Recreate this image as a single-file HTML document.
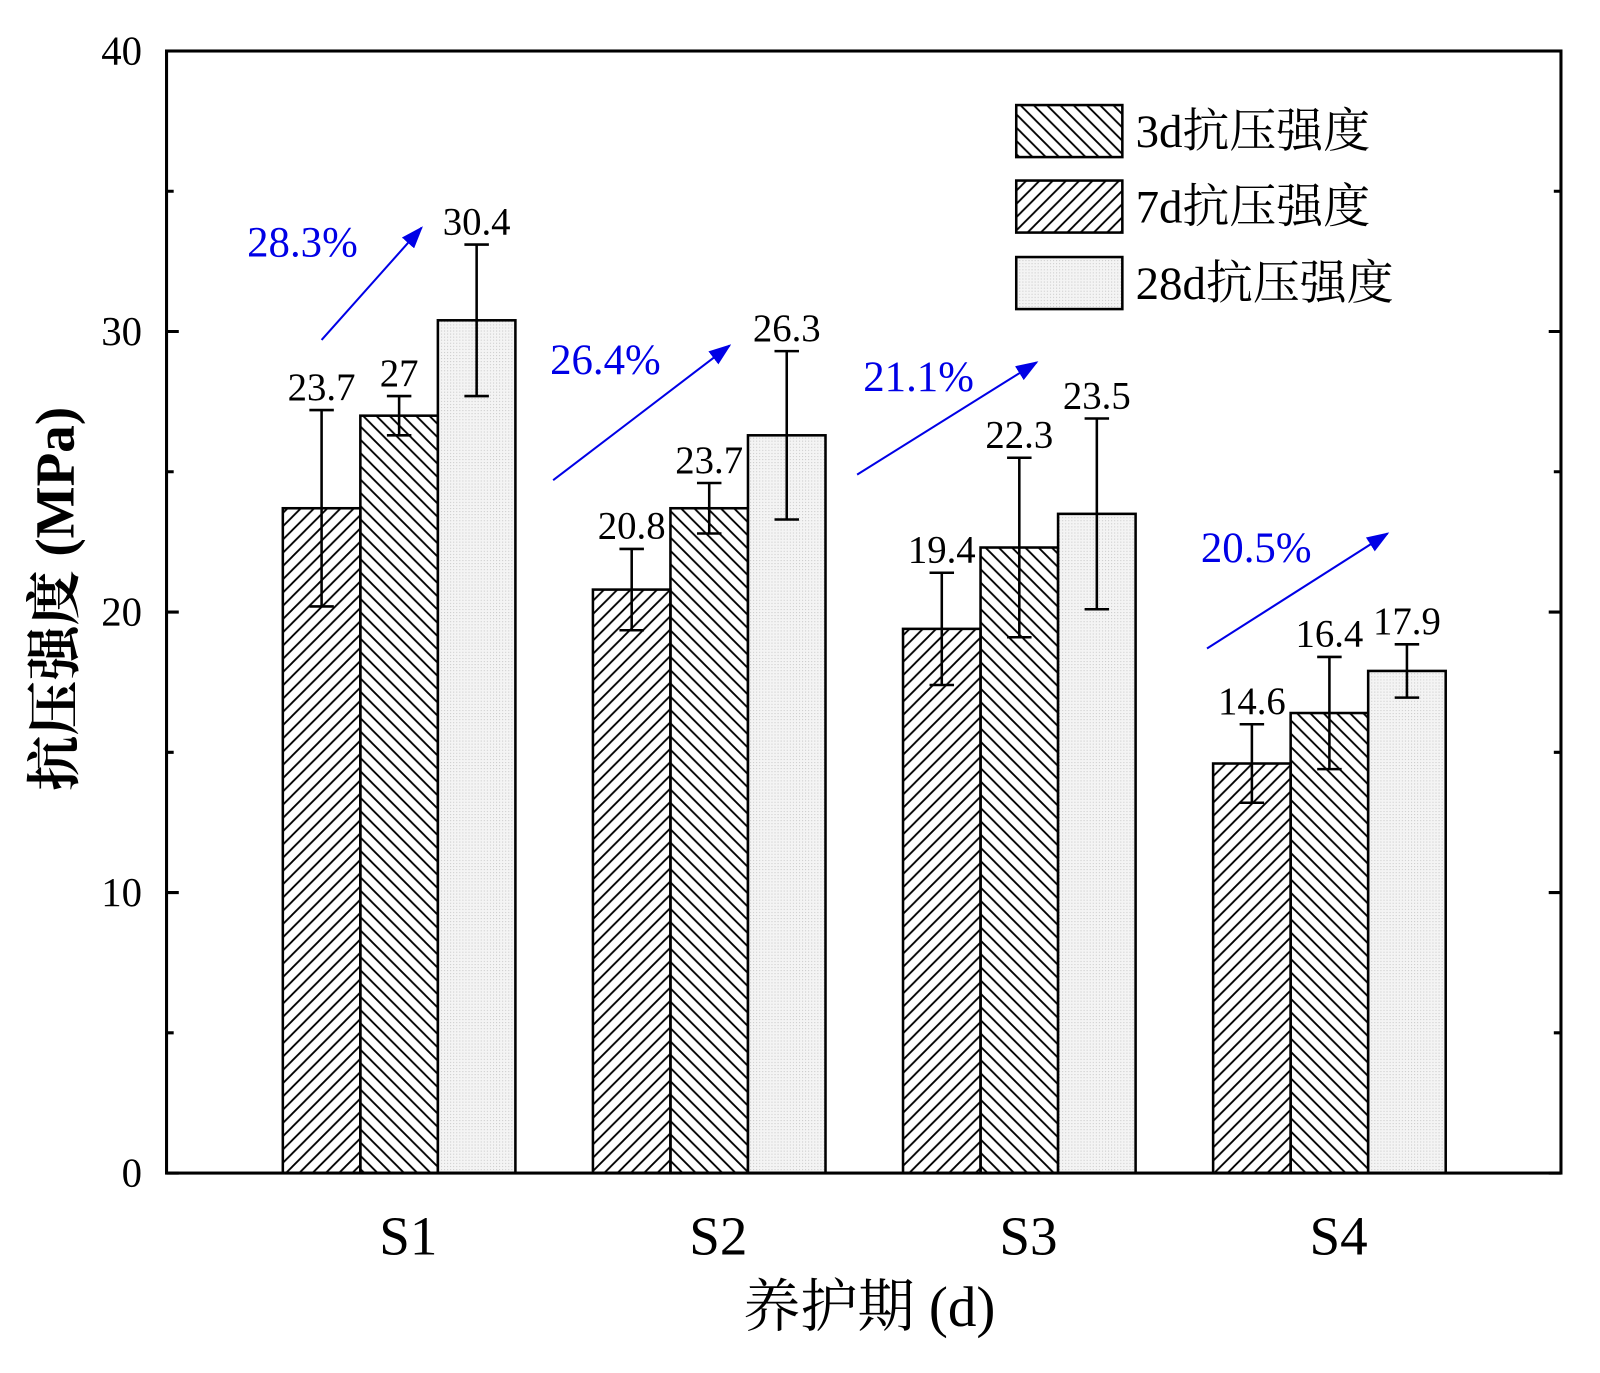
<!DOCTYPE html>
<html><head><meta charset="utf-8"><style>body{margin:0;background:#fff}svg{display:block}</style></head>
<body>
<svg id="chart" width="1600" height="1373" viewBox="0 0 1568 1346" xmlns="http://www.w3.org/2000/svg" font-family="'Liberation Serif','Noto Serif CJK SC',serif">
<defs>
<pattern id="hf" patternUnits="userSpaceOnUse" width="13" height="13"><path d="M-3,3 L3,-3 M0,13 L13,0 M10,16 L16,10" stroke="#000" stroke-width="1.8"/></pattern>
<pattern id="hb" patternUnits="userSpaceOnUse" width="13" height="13"><path d="M-3,10 L3,16 M0,0 L13,13 M10,-3 L16,3" stroke="#000" stroke-width="1.8"/></pattern>
<pattern id="dots" patternUnits="userSpaceOnUse" width="3" height="3"><rect width="3" height="3" fill="#f4f4f4"/><rect width="1" height="1" fill="#c8c8c8"/></pattern>
<marker id="ah" markerWidth="22" markerHeight="16" refX="20" refY="8" orient="auto" markerUnits="userSpaceOnUse" viewBox="0 0 22 16"><path d="M0,0 L22,8 L0,16 z" fill="#0000e6"/></marker>
</defs>
<g id="plot"></g>
</svg>
<script>
const categories = ['S1','S2','S3','S4'];
const series = ['3d抗压强度','7d抗压强度','28d抗压强度'];
const v3 = [23.7, 20.8, 19.4, 14.6];
const v7 = [27, 23.7, 22.3, 16.4];
const v28 = [30.4, 26.3, 23.5, 17.9];
const e3 = [3.5, 1.45, 2.0, 1.4];
const e7 = [0.7, 0.9, 3.2, 2.0];
const e28 = [2.7, 3.0, 3.4, 0.95];
const labels3 = ['23.7','20.8','19.4','14.6'];
const labels7 = ['27','23.7','22.3','16.4'];
const labels28 = ['30.4','26.3','23.5','17.9'];
const pcts = ['28.3%','26.4%','21.1%','20.5%'];
const yTicks = [0,10,20,30,40];
const arrowFromVal = [29.7, 24.7, 24.9, 18.7];
const arrowToVal = [33.7, 29.5, 28.9, 22.8];

const NS='http://www.w3.org/2000/svg';
const g=document.getElementById('plot');
const X0=163,X1=1530,Y0=1150,Y1=50;
const y=v=>Y0-(v/40)*(Y0-Y1);
const groupLeft=i=>277+304*i;
const BW=76;
const arrowDx=[[38,136],[-39,134],[-45,131],[-6,171]];
const pctDx=[-35,-42,-39,-12];
function el(t,a,txt){const e=document.createElementNS(NS,t);for(const k in a)e.setAttribute(k,a[k]);if(txt!==undefined)e.textContent=txt;g.appendChild(e);return e;}

const vals=[v3,v7,v28],errs=[e3,e7,e28],labs=[labels3,labels7,labels28],fills=['url(#hf)','url(#hb)','url(#dots)'];
categories.forEach((c,i)=>{
  for(let s=0;s<3;s++){
    const x=groupLeft(i)+s*BW,v=vals[s][i],cx=x+BW/2;
    const r=el('rect',{x:x,y:y(v),width:BW,height:Y0-y(v),fill:fills[s],stroke:'#000','stroke-width':2.5});
    
    
    const eu=y(v+errs[s][i]),ed=y(v-errs[s][i]);
    const eb=el('path',{d:`M${cx},${eu}V${ed}M${cx-12},${eu}H${cx+12}M${cx-12},${ed}H${cx+12}`,stroke:'#000','stroke-width':2.5,fill:'none'});
    
    
    const t=el('text',{x:cx,y:eu-10,'font-size':38,'text-anchor':'middle'},labs[s][i]);
    
    
  }
  const xl=el('text',{x:groupLeft(i)+BW*1.5+9,y:1230,'font-size':54,'text-anchor':'middle'},c);
  
  
  const ax1=groupLeft(i)+arrowDx[i][0], ax2=groupLeft(i)+arrowDx[i][1];
  const ar=el('line',{x1:ax1,y1:y(arrowFromVal[i]),x2:ax2,y2:y(arrowToVal[i]),stroke:'#0000e6','stroke-width':2,'marker-end':'url(#ah)'});
  
  
  const pt=el('text',{x:groupLeft(i)+pctDx[i],y:y(arrowToVal[i])+28,'font-size':42,fill:'#0000e6'},pcts[i]);
  
  
});
const ax=el('rect',{x:X0,y:Y1,width:X1-X0,height:Y0-Y1,fill:'none',stroke:'#000','stroke-width':3});


for(let v=0;v<=40;v+=5){
  const len=v%10===0?12:7;
  el('path',{d:`M${X0},${y(v)}h${len}M${X1},${y(v)}h${-len}`,stroke:'#000','stroke-width':3});
}
yTicks.forEach(v=>{
  const t=el('text',{x:X0-24,y:y(v)+13,'font-size':40,'text-anchor':'end'},String(v));
  
  
});
const xt=el('text',{x:852,y:1300,'font-size':56,'text-anchor':'middle'},'养护期 (d)');


const yt=el('text',{x:0,y:0,'font-size':54,'font-weight':'bold','text-anchor':'middle',transform:'translate(72,587) rotate(-90)'},'抗压强度 (MPa)');


const lf=['url(#hb)','url(#hf)','url(#dots)'],ly=[103,177,252];
series.forEach((s,k)=>{
  const r=el('rect',{x:996,y:ly[k],width:104,height:51,fill:lf[k],stroke:'#000','stroke-width':2.5});
  
  
  const t=el('text',{x:1113,y:ly[k]+41,'font-size':46},s);
  
  
});
</script>
</body></html>
